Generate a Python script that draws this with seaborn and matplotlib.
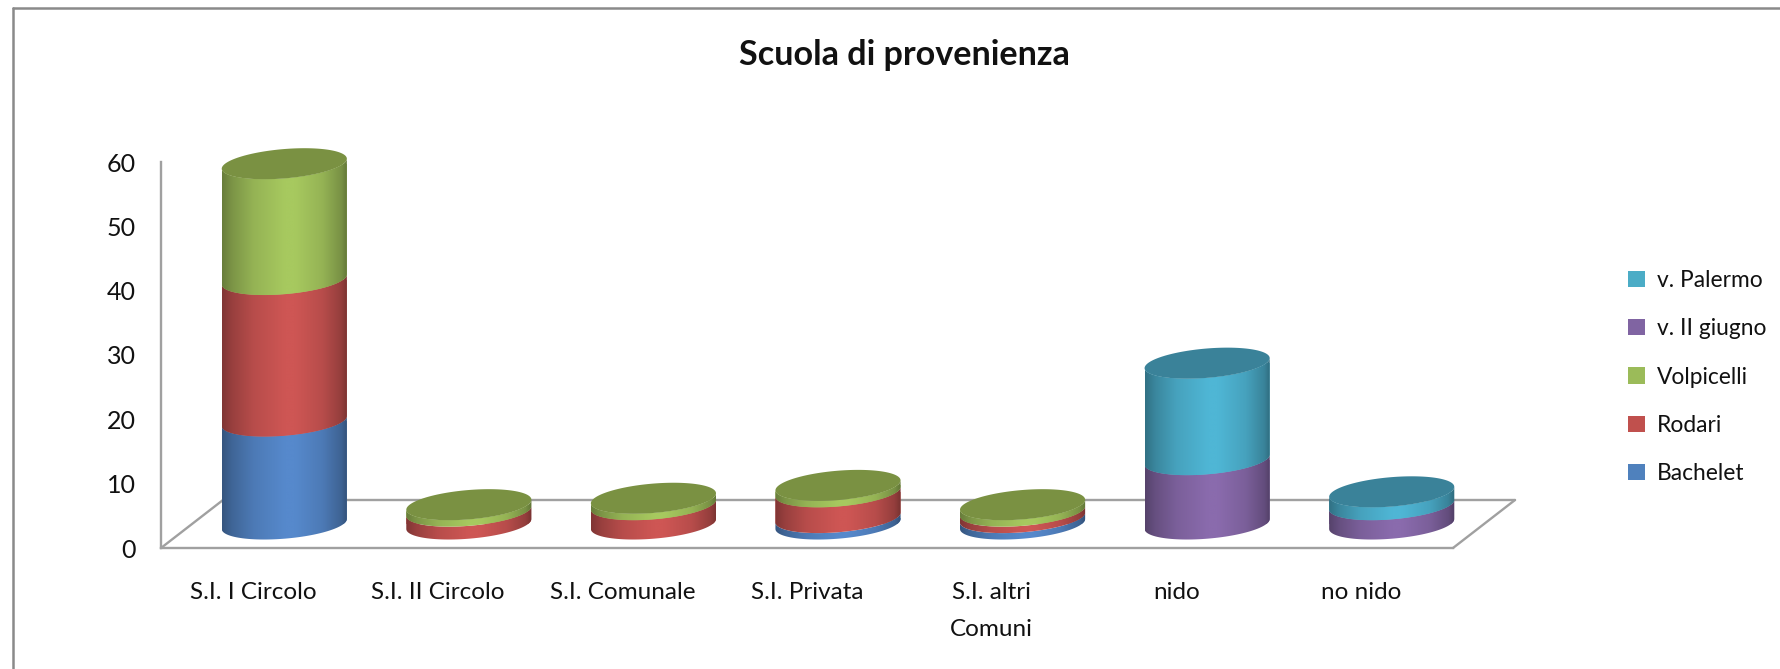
import numpy as np
import pandas as pd
import matplotlib
matplotlib.use("Agg")
import matplotlib.pyplot as plt
from matplotlib.lines import Line2D
from matplotlib.patches import Patch, PathPatch
from matplotlib.path import Path
import seaborn as sns

scuole = [
    "S.I. I Circolo",
    "S.I. II Circolo",
    "S.I. Comunale",
    "S.I. Privata",
    "S.I. altri\nComuni",
    "nido",
    "no nido",
]
plessi = ["Bachelet", "Rodari", "Volpicelli", "v. II giugno", "v. Palermo"]
bachelet = [16, 0, 0, 1, 1, 0, 0]
rodari = [22, 2, 3, 4, 1, 0, 0]
volpicelli = [18, 1, 1, 1, 1, 0, 0]
giugno = [0, 0, 0, 0, 0, 10, 3]
palermo = [0, 0, 0, 0, 0, 15, 2]

legend_colors = ["#4F81BD", "#C0504D", "#9BBB59", "#8064A2", "#4BACC6"]
light_colors = ["#5689CC", "#CE5654", "#A7C95F", "#8A6BAD", "#4FB6D5"]
cap_colors = ["#4A74A8", "#A8494A", "#7A9142", "#6A5488", "#3A8299"]

W, H = 1780, 669
AX_LEFT, AX_RIGHT, AX_BOTTOM, AX_TOP = 161, 1453, 548, 162
GRAY = "#A0A0A0"

sns.set_theme(style="white")
plt.rcParams["font.family"] = ["Lato", "DejaVu Sans"]

fig = plt.figure(figsize=(W / 100, H / 100), dpi=100, facecolor="white")
ax = fig.add_axes([
    AX_LEFT / W,
    1 - AX_BOTTOM / H,
    (AX_RIGHT - AX_LEFT) / W,
    (AX_BOTTOM - AX_TOP) / H,
])

stack = np.cumsum([bachelet, rodari, volpicelli, giugno, palermo], axis=0)
df = pd.DataFrame({
    "scuola": np.tile(scuole, len(plessi)),
    "plesso": np.repeat(plessi, len(scuole)),
    "cumulata": stack.ravel(),
})

# tallest layer first, the shorter ones are painted over it
sns.barplot(
    data=df,
    x="scuola",
    y="cumulata",
    hue="plesso",
    order=scuole,
    hue_order=plessi[::-1],
    palette=dict(zip(plessi, legend_colors)),
    dodge=False,
    width=0.678,
    legend=False,
    saturation=1,
    errorbar=None,
    ax=ax,
)

px_x = (AX_RIGHT - AX_LEFT) / 7
px_y = (AX_BOTTOM - AX_TOP) / 60
depth_x = 62 / px_x
depth_y = 48 / px_y
shear = 5 / px_y
minor = 14.7 / px_y


def front_arc(cx, a, z, reverse=False):
    t = np.linspace(np.pi, 2 * np.pi, 60)
    if reverse:
        t = t[::-1]
    return np.column_stack([cx + a * np.cos(t), z + shear * np.cos(t) + minor * np.sin(t)])


def shade(color):
    u = np.linspace(0, 1, 256)
    f = np.interp(u, [0, 0.08, 0.25, 0.5, 0.58, 0.8, 0.95, 1], [0.62, 0.74, 0.89, 1, 1, 0.89, 0.72, 0.58])
    rgb = np.array(matplotlib.colors.to_rgb(color))
    return (f[:, None] * rgb)[None, :, :]


# floor of the 3d frame
floor = [
    ([-0.5, -0.5 + depth_x], [0, depth_y]),
    ([-0.5 + depth_x, 6.5 + depth_x], [depth_y, depth_y]),
    ([6.5, 6.5 + depth_x], [0, depth_y]),
]
for xs, ys in floor:
    ax.plot(xs, ys, color=GRAY, lw=1.7, clip_on=False, zorder=1, solid_capstyle="round")

base = np.zeros(len(scuole)) + depth_y / 2
containers = ax.containers[::-1]
for s, container in enumerate(containers):
    for i, bar in enumerate(container.patches):
        height = bar.get_height()
        if s == 0:
            bar.set_x(bar.get_x() + depth_x / 2)
        else:
            bar.set_x(containers[0].patches[i].get_x())
        bar.set_y(depth_y / 2)
        bar.set_zorder(2)
        bar.set_linewidth(0)
        z0 = base[i]
        z1 = height + depth_y / 2
        cx = bar.get_x() + bar.get_width() / 2
        a = bar.get_width() / 2
        if z1 <= z0:
            bar.set_visible(False)
            continue
        outline = np.vstack([front_arc(cx, a, z0), front_arc(cx, a, z1, reverse=True)])
        body = PathPatch(Path(np.vstack([outline, outline[:1]])), transform=ax.transData, fc="none", ec="none")
        ax.add_patch(body)
        body.set_clip_on(False)
        bar.set_clip_path(body)
        bar.set_clip_box(fig.bbox)
        img = ax.imshow(
            shade(light_colors[s]),
            extent=[cx - a, cx + a, z0 - 2 * minor, z1 + 2 * minor],
            aspect="auto",
            interpolation="bilinear",
            zorder=3 + 0.1 * s,
        )
        img.set_clip_path(body)
        img.set_clip_box(fig.bbox)
        base[i] = z1

# flat lid on top of each stack
for i, bar in enumerate(containers[0].patches):
    top = int(np.argmax(stack[:, i]))
    cx = bar.get_x() + bar.get_width() / 2
    a = bar.get_width() / 2
    t = np.linspace(0, 2 * np.pi, 120)
    lid = np.column_stack([cx + a * np.cos(t), base[i] + shear * np.cos(t) + minor * np.sin(t)])
    ax.fill(lid[:, 0], lid[:, 1], color=cap_colors[top], lw=0, zorder=4, clip_on=False)

ax.set_xlim(-0.5, 6.5)
ax.set_ylim(0, 60)
ax.set_yticks(range(0, 61, 10))
ax.set_xlabel("")
ax.set_ylabel("")
ax.tick_params(axis="x", length=0, pad=24.5, labelsize=17.5, labelcolor="#111111")
ax.tick_params(axis="y", length=0, pad=18, labelsize=18, labelcolor="#111111")
for label in ax.get_xticklabels():
    label.set_linespacing(1.92)
    label.set_verticalalignment("top")
sns.despine(ax=ax)
for side in ["left", "bottom"]:
    ax.spines[side].set_color(GRAY)
    ax.spines[side].set_linewidth(1.7)

fig.suptitle("Scuola di provenienza", x=904 / W, y=1 - 55 / H, va="center", ha="center",
             fontsize=24.6, fontweight="bold", color="#111111")

handles = [Patch(color=c, lw=0) for c in legend_colors[::-1]]
fig.legend(
    handles,
    plessi[::-1],
    loc="center left",
    bbox_to_anchor=(1628 / W, 1 - 377 / H),
    frameon=False,
    fontsize=16.4,
    borderpad=0,
    borderaxespad=0,
    handlelength=0.74,
    handleheight=0.74,
    handletextpad=0.52,
    labelspacing=1.2,
    labelcolor="#111111",
)

# outer frame, cut off on the right and bottom in the original
fig.add_artist(Line2D([12.5 / W, 12.5 / W], [0, 1 - 8 / H], color="#8A8A8A", lw=1.8))
fig.add_artist(Line2D([12.5 / W, 1], [1 - 8 / H, 1 - 8 / H], color="#8A8A8A", lw=1.8))

fig.savefig("out.png", dpi=100)
